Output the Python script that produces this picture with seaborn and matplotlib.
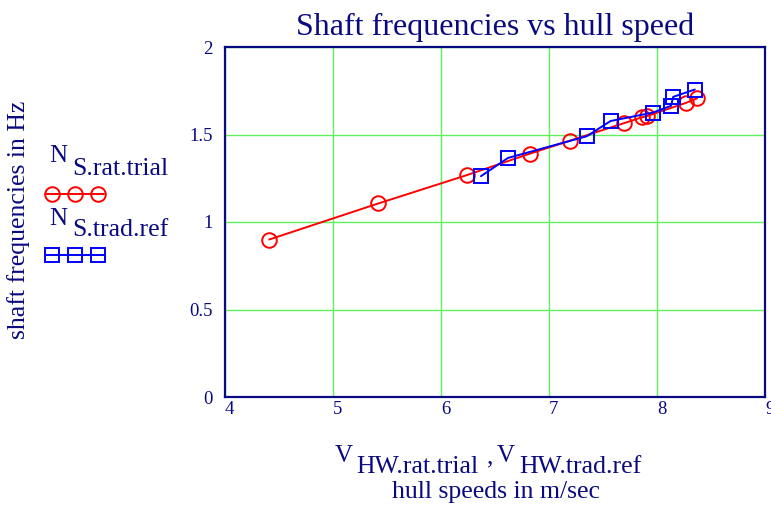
import matplotlib
matplotlib.use("Agg")
import matplotlib.pyplot as plt
import seaborn as sns
import pandas as pd
from matplotlib.lines import Line2D

# ---------- dados ----------
v_rat_trial = [4.41, 5.42, 6.24, 6.82, 7.19, 7.69, 7.86, 7.91, 8.27, 8.37]
n_rat_trial = [0.90, 1.106, 1.268, 1.39, 1.464, 1.564, 1.598, 1.606, 1.681, 1.706]

v_trad_ref = [6.37, 6.62, 7.35, 7.57, 7.96, 8.13, 8.15, 8.35]
n_trad_ref = [1.262, 1.366, 1.49, 1.577, 1.625, 1.664, 1.715, 1.757]

x_ticks = [4, 5, 6, 7, 8, 9]
y_ticks = [0, 0.5, 1, 1.5, 2]
y_tick_labels = ["0", "0.5", "1", "1.5", "2"]

NAVY = "#0a0a80"
GRID = "#5ef05e"

sns.set_theme(style="white")
plt.rcParams["font.family"] = ["Liberation Serif", "DejaVu Serif"]
plt.rcParams["text.color"] = NAVY

df_rat = pd.DataFrame({"v": v_rat_trial, "n": n_rat_trial})
df_trad = pd.DataFrame({"v": v_trad_ref, "n": n_trad_ref})

W, H = 771, 508
fig = plt.figure(figsize=(W / 100, H / 100), dpi=100)
ax = fig.add_axes([225 / W, 1 - 397 / H, 540 / W, 350 / H])

sns.lineplot(data=df_rat, x="v", y="n", ax=ax, sort=False, color="#ff0000",
             marker="o", markersize=10.5, markerfacecolor="none",
             markeredgecolor="#ff0000", markeredgewidth=1.4, linewidth=1.4)
sns.lineplot(data=df_trad, x="v", y="n", ax=ax, sort=False, color="#0000ff",
             marker="s", markersize=10.5, markerfacecolor="none",
             markeredgecolor="#0000ff", markeredgewidth=1.4, linewidth=1.4)

ax.set_xlim(4, 9)
ax.set_ylim(0, 2)
ax.set_xticks(x_ticks)
ax.set_xticklabels([str(t) for t in x_ticks])
ax.set_yticks(y_ticks)
ax.set_yticklabels(y_tick_labels)
ax.tick_params(length=0, labelsize=13.5, colors=NAVY)
ax.tick_params(axis="x", pad=3)
ax.tick_params(axis="y", pad=9)
for lab in ax.get_xticklabels():
    lab.set_ha("left")

ax.grid(True, color=GRID, linewidth=1.0)
ax.set_axisbelow(True)
for s in ax.spines.values():
    s.set_color(NAVY)
    s.set_linewidth(1.6)

ax.set_xlabel("")
ax.set_ylabel("")
ax.set_title("Shaft frequencies vs hull speed", fontsize=23, color=NAVY, pad=9)


def px(x, y):
    return x / W, 1 - y / H


# rótulo do eixo y
fig.text(*px(19, 220), "shaft frequencies in Hz", rotation=90,
         ha="center", va="center", fontsize=18.5, color=NAVY)

# legenda manual à esquerda
fig.text(*px(49, 156), "N", ha="left", va="center", fontsize=18, color=NAVY)
fig.text(*px(72, 169), "S.rat.trial", ha="left", va="center", fontsize=18.5, color=NAVY)
fig.add_artist(Line2D([45 / W, 104 / W], [1 - 194 / H] * 2, color="#ff0000",
                      linewidth=1.4, transform=fig.transFigure))
fig.add_artist(Line2D([52 / W, 75 / W, 98 / W], [1 - 194 / H] * 3, linestyle="none",
                      marker="o", markersize=10.5, markerfacecolor="none",
                      markeredgecolor="#ff0000", markeredgewidth=1.4,
                      transform=fig.transFigure))

fig.text(*px(49, 219), "N", ha="left", va="center", fontsize=18, color=NAVY)
fig.text(*px(72, 230), "S.trad.ref", ha="left", va="center", fontsize=18.5, color=NAVY)
fig.add_artist(Line2D([45 / W, 104 / W], [1 - 255 / H] * 2, color="#0000ff",
                      linewidth=1.4, transform=fig.transFigure))
fig.add_artist(Line2D([52 / W, 75 / W, 98 / W], [1 - 255 / H] * 3, linestyle="none",
                      marker="s", markersize=10, markerfacecolor="none",
                      markeredgecolor="#0000ff", markeredgewidth=1.4,
                      transform=fig.transFigure))

# rótulo do eixo x
fig.text(*px(335, 456), "V", ha="left", va="center", fontsize=18, color=NAVY)
fig.text(*px(356, 467), "HW.rat.trial", ha="left", va="center", fontsize=18.5, color=NAVY)
fig.text(*px(487, 457), ",", ha="left", va="center", fontsize=18, color=NAVY)
fig.text(*px(497, 456), "V", ha="left", va="center", fontsize=18, color=NAVY)
fig.text(*px(519, 467), "HW.trad.ref", ha="left", va="center", fontsize=18.5, color=NAVY)
fig.text(*px(496, 492), "hull speeds in m/sec", ha="center", va="center",
         fontsize=18.5, color=NAVY)

fig.savefig("out.png", dpi=100, facecolor="white")
